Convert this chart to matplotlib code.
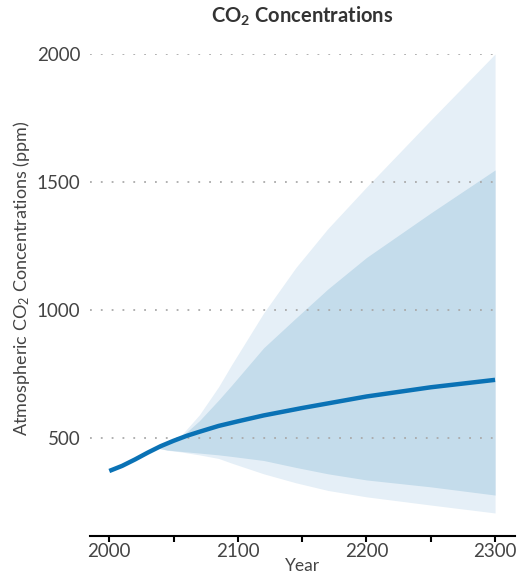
import matplotlib.pyplot as plt

plt.rcParams['font.family'] = ['Lato', 'DejaVu Sans']
plt.rcParams['mathtext.fontset'] = 'custom'
plt.rcParams['mathtext.rm'] = 'Lato'
plt.rcParams['mathtext.default'] = 'regular'

# central projection
years = [2000, 2010, 2020, 2030, 2040, 2050, 2060, 2070, 2085, 2100, 2120, 2150, 2200, 2250, 2300]
central = [371, 391, 416, 443, 468, 489, 508, 524, 547, 565, 588, 617, 662, 698, 727]

# uncertainty bands
band_years = [2037, 2045, 2055, 2070, 2085, 2095, 2120, 2145, 2170, 2200, 2250, 2300]
outer_hi = [461, 476, 505, 590, 700, 785, 988, 1165, 1318, 1480, 1742, 2000]
inner_hi = [461, 474, 500, 567, 648, 705, 852, 968, 1082, 1205, 1379, 1547]
inner_lo = [461, 453, 448, 441, 434, 428, 412, 385, 360, 336, 309, 277]
outer_lo = [461, 452, 446, 434, 420, 402, 360, 325, 295, 270, 238, 207]

yticks = [500, 1000, 1500, 2000]
xlabels = [2000, 2100, 2200, 2300]

fig = plt.figure(figsize=(5.17, 5.75), dpi=100)
ax = fig.add_axes([90/517, 39/575, 425/517, 482/575])

ax.fill_between(band_years, outer_lo, outer_hi, color='#e5eff7', lw=0)
ax.fill_between(band_years, inner_lo, inner_hi, color='#c4dceb', lw=0)
ax.hlines(yticks, 1985, 2300, colors='#aaaaaa', linestyles=(0, (1, 5)), lw=1.3, zorder=3)
ax.plot(years, central, color='#0a72b5', lw=3.2, zorder=4, solid_capstyle='butt')

ax.set_xlim(1985, 2315.5)
ax.set_ylim(117, 2000)
ax.set_yticks(yticks)
ax.set_xticks(range(2000, 2301, 50))
ax.set_xticklabels([str(y) if y in xlabels else '' for y in range(2000, 2301, 50)])

for s in ['top', 'right', 'left']:
    ax.spines[s].set_visible(False)
ax.spines['bottom'].set_linewidth(1.5)
ax.tick_params(axis='y', length=0, pad=7, labelsize=13.5, labelcolor='#444444')
ax.tick_params(axis='x', length=4, width=1.5, pad=1, labelsize=13.5, labelcolor='#444444')

ax.set_xlabel('Year', fontsize=12.5, color='#444444', labelpad=-1.5)
ax.set_ylabel('Atmospheric CO$_2$ Concentrations (ppm)', fontsize=13, color='#444444')
ax.yaxis.set_label_coords(-0.136, 0.535)
fig.text(302/517, 1 - 16/575, 'CO$_2$ Concentrations', ha='center', va='center',
         fontsize=14.5, fontweight='bold', color='#333333')

fig.savefig('out.png', dpi=100)
